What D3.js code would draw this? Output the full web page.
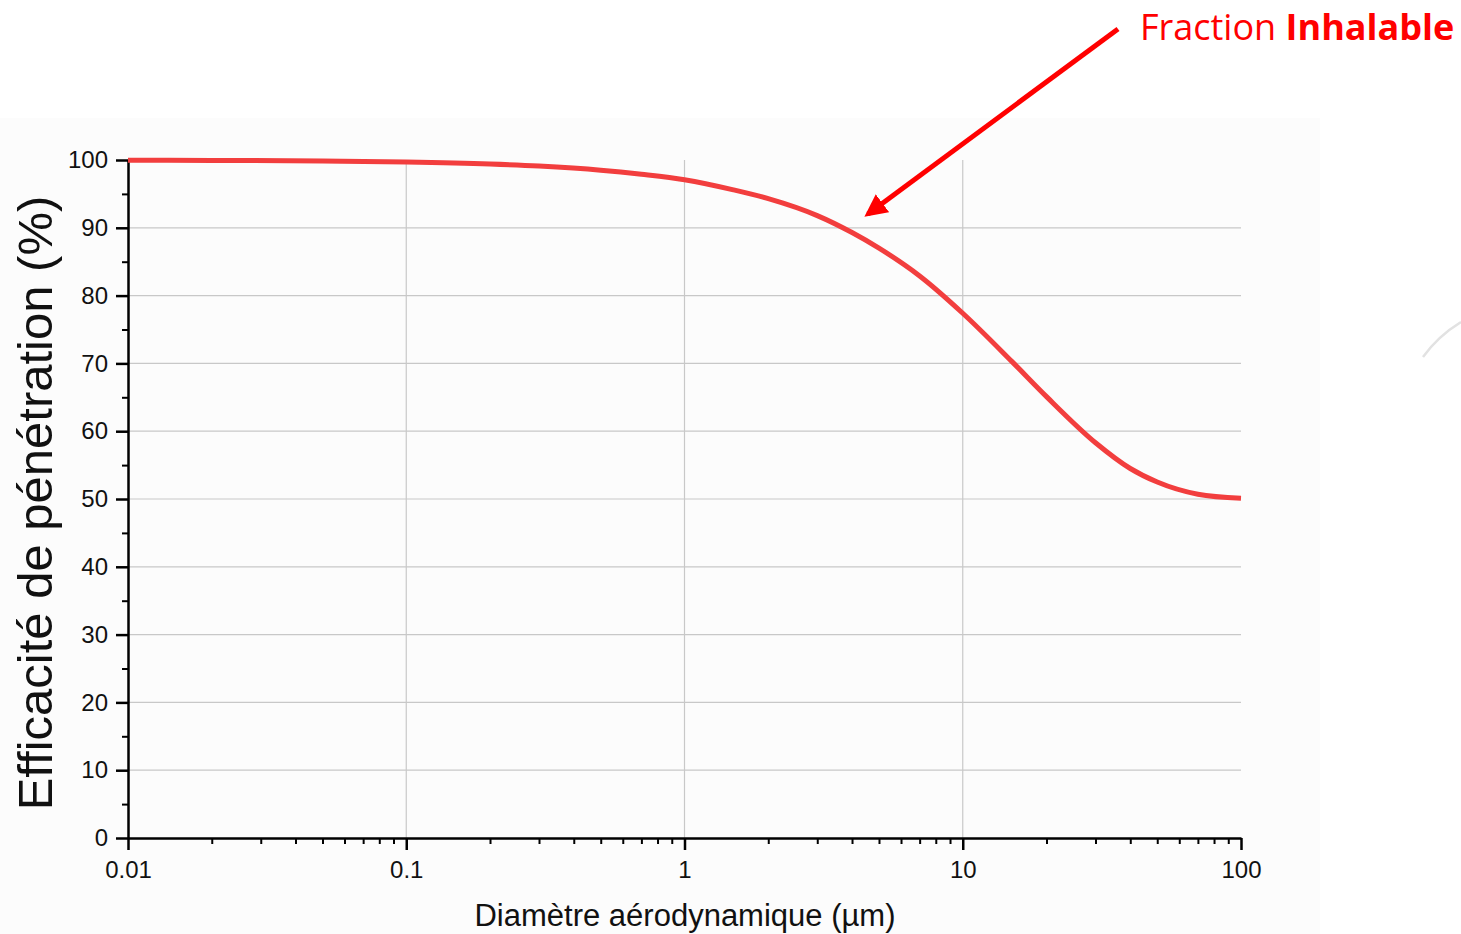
<!DOCTYPE html>
<html>
<head>
<meta charset="utf-8">
<script src="https://cdn.jsdelivr.net/npm/d3@7"></script>
<style>
  body { margin: 0; background: #fff; }
  svg { display: block; }
</style>
</head>
<body>
<div id="chart"></div>
<script>
// diameter (µm) and inhalable penetration efficiency (%)
const diameters = [0.01, 0.02, 0.05, 0.1, 0.2, 0.3, 0.5, 0.7, 1, 1.5, 2, 3, 4, 5, 7, 10, 15, 20, 30, 40, 50, 70, 100];
const efficiency = [99.97, 99.94, 99.85, 99.7, 99.4, 99.1, 98.5, 97.9, 97.1, 95.6, 94.3, 91.8, 89.3, 87.0, 82.9, 77.4, 70.3, 65.1, 58.3, 54.5, 52.5, 50.7, 50.1];
const xTicks = [0.01, 0.1, 1, 10, 100];
const xTickLabels = ['0.01', '0.1', '1', '10', '100'];
const yTicks = [0, 10, 20, 30, 40, 50, 60, 70, 80, 90, 100];

const W = 1461, H = 934;
const margin = { top: 160, right: 220, bottom: 96, left: 128 };
const width = W - margin.left - margin.right;
const height = H - margin.top - margin.bottom;

const root = d3.select('#chart').append('svg')
  .attr('width', W)
  .attr('height', H);

// faint backdrop of the pasted chart image
root.append('rect')
  .attr('x', 0).attr('y', 118)
  .attr('width', 1320).attr('height', H - 118)
  .attr('fill', '#fcfcfc');

const svg = root.append('g')
  .attr('transform', 'translate(' + margin.left + ',' + margin.top + ')');

const x = d3.scaleLog().domain([0.01, 100]).range([0, width]);
const y = d3.scaleLinear().domain([0, 100]).range([height, 0]);

// grid
svg.append('g')
  .selectAll('line')
  .data(yTicks.filter(d => d > 0 && d < 100))
  .enter().append('line')
  .attr('x1', 0).attr('x2', width)
  .attr('y1', d => y(d)).attr('y2', d => y(d))
  .attr('stroke', '#c8c8c8').attr('stroke-width', 1.2);

svg.append('g')
  .selectAll('line')
  .data(xTicks.slice(1, -1))
  .enter().append('line')
  .attr('x1', d => x(d)).attr('x2', d => x(d))
  .attr('y1', 0).attr('y2', height)
  .attr('stroke', '#c8c8c8').attr('stroke-width', 1.2);

// minor ticks on x (2..9 of each decade)
const minorX = [];
xTicks.slice(0, -1).forEach(t => {
  for (let k = 2; k <= 9; k++) minorX.push(t * k);
});

const xMinor = svg.append('g')
  .attr('transform', 'translate(0,' + height + ')')
  .call(d3.axisBottom(x).tickValues(minorX).tickSize(6).tickFormat(''));
xMinor.select('.domain').remove();
xMinor.selectAll('line').attr('stroke', '#000').attr('stroke-width', 2);

const xAxis = svg.append('g')
  .attr('transform', 'translate(0,' + height + ')')
  .call(d3.axisBottom(x).tickValues(xTicks).tickSize(12).tickSizeOuter(0)
    .tickFormat((d, i) => xTickLabels[i]));
xAxis.select('.domain').attr('stroke', '#000').attr('stroke-width', 2.5);
xAxis.selectAll('line').attr('stroke', '#000').attr('stroke-width', 2.5);
xAxis.selectAll('text')
  .attr('font-family', 'Liberation Sans, Arial, sans-serif')
  .attr('font-size', 24)
  .attr('fill', '#111')
  .attr('dy', '1.05em');

// minor ticks on y (every 5)
const yMinor = svg.append('g')
  .call(d3.axisLeft(y).tickValues(yTicks.slice(0, -1).map(d => d + 5)).tickSize(6).tickFormat(''));
yMinor.select('.domain').remove();
yMinor.selectAll('line').attr('stroke', '#000').attr('stroke-width', 2);

const yAxis = svg.append('g')
  .call(d3.axisLeft(y).tickValues(yTicks).tickSize(12).tickSizeOuter(0));
yAxis.select('.domain').attr('stroke', '#000').attr('stroke-width', 2.5);
yAxis.selectAll('line').attr('stroke', '#000').attr('stroke-width', 2.5);
yAxis.selectAll('text')
  .attr('font-family', 'Liberation Sans, Arial, sans-serif')
  .attr('font-size', 24)
  .attr('fill', '#111')
  .attr('x', -20);

// curve
const line = d3.line()
  .x(d => x(d[0]))
  .y(d => y(d[1]))
  .curve(d3.curveMonotoneX);

svg.append('path')
  .datum(diameters.map((d, i) => [d, efficiency[i]]))
  .attr('fill', 'none')
  .attr('stroke', '#f23e3e')
  .attr('stroke-width', 5)
  .attr('d', line);

// axis titles
root.append('text')
  .attr('x', 685)
  .attr('y', 926)
  .attr('text-anchor', 'middle')
  .attr('font-family', 'Liberation Sans, Arial, sans-serif')
  .attr('font-size', 31)
  .attr('fill', '#111')
  .text('Diamètre aérodynamique (µm)');

root.append('text')
  .attr('transform', 'translate(52,503) rotate(-90)')
  .attr('text-anchor', 'middle')
  .attr('font-family', 'Liberation Sans, Arial, sans-serif')
  .attr('font-size', 49)
  .attr('fill', '#111')
  .text('Efficacité de pénétration (%)');

// annotation
const defs = root.append('defs');
defs.append('marker')
  .attr('id', 'head')
  .attr('viewBox', '0 0 10 10')
  .attr('refX', 8).attr('refY', 5)
  .attr('markerWidth', 4.5).attr('markerHeight', 4.5)
  .attr('orient', 'auto')
  .append('path')
  .attr('d', 'M0,0 L10,5 L0,10 Z')
  .attr('fill', '#ff0000');

root.append('line')
  .attr('x1', 1118).attr('y1', 29)
  .attr('x2', 868).attr('y2', 214)
  .attr('stroke', '#ff0000')
  .attr('stroke-width', 5)
  .attr('marker-end', 'url(#head)');

const ann = root.append('text')
  .attr('x', 1140)
  .attr('y', 40)
  .attr('font-family', 'Open Sans, sans-serif')
  .attr('font-size', 36)
  .attr('fill', '#ff0000');
ann.append('tspan').text('Fraction ');
ann.append('tspan').attr('font-weight', 'bold').text('Inhalable');

// stray grey arc at right edge
root.append('path')
  .attr('d', 'M1423,357 Q1438,336 1461,322')
  .attr('fill', 'none')
  .attr('stroke', '#e2e2e2')
  .attr('stroke-width', 2.5);
</script>
</body>
</html>
